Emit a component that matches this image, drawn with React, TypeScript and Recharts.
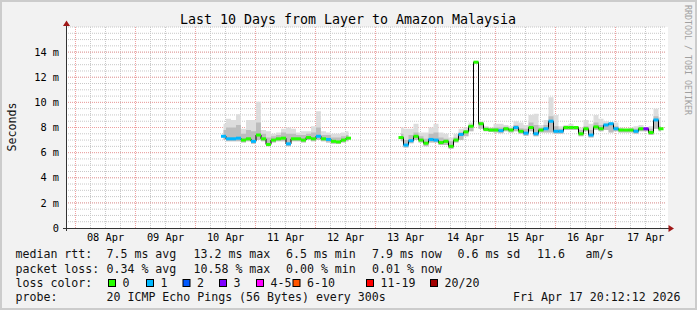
import React from "react";
import {
  ComposedChart,
  Area,
  Line,
  Scatter,
  XAxis,
  YAxis,
  CartesianGrid,
} from "recharts";

// time axis: hours after the graph start (Tue Apr 07 20:12:12)
const MIDNIGHT = 3.797; // Apr 08 00:00
const STEP = 2;
const START_A = 63;
const START_B = 134;

const dayLabels = [
  "08 Apr", "09 Apr", "10 Apr", "11 Apr", "12 Apr",
  "13 Apr", "14 Apr", "15 Apr", "16 Apr", "17 Apr",
];
const yTicks = [0, 2, 4, 6, 8, 10, 12, 14];

// 10 Apr .. 12 Apr
const medA = [7.3, 7.1, 7.1, 7.15, 7.0, 7.1, 6.9, 7.4, 7.1, 6.65, 7.0, 7.1, 7.15, 6.7, 7.1, 7.1, 7.0, 7.2, 7.1, 7.3, 7.1, 7.05, 6.9, 6.85, 7.0, 7.15];
const lossA = [1, 1, 1, 1, 0, 0, 1, 0, 0, 0, 0, 0, 0, 1, 0, 0, 0, 0, 0, 1, 0, 1, 0, 0, 0, 0];
const loA = [7.0, 6.9, 6.9, 6.9, 6.8, 6.9, 6.7, 7.0, 6.9, 6.5, 6.8, 6.9, 6.9, 6.5, 6.9, 6.9, 6.8, 7.0, 6.9, 7.0, 6.9, 6.8, 6.7, 6.7, 6.8, 6.9];
const midA = [7.8, 8.0, 8.0, 8.2, 7.5, 7.8, 7.7, 8.4, 7.5, 7.2, 7.3, 7.4, 7.6, 7.5, 7.5, 7.4, 7.4, 7.5, 7.6, 8.0, 7.4, 7.4, 7.2, 7.2, 7.3, 7.4];
const hiA = [8.3, 8.7, 8.6, 9.05, 7.9, 8.6, 8.6, 10.05, 7.8, 7.7, 7.5, 7.6, 7.9, 8.0, 7.9, 7.6, 7.7, 7.7, 8.1, 9.3, 7.7, 7.6, 7.5, 7.5, 7.6, 7.7];

// 13 Apr .. 17 Apr
const medB = [7.2, 6.6, 6.95, 7.3, 7.0, 6.75, 7.05, 7.0, 6.8, 6.9, 6.5, 7.0, 7.45, 7.65, 8.1, 13.2, 8.3, 7.85, 7.8, 7.8, 7.75, 7.9, 7.8, 8.0, 7.7, 7.55, 8.0, 7.5, 7.8, 7.9, 8.5, 7.7, 7.7, 8.0, 8.0, 8.0, 7.5, 7.9, 7.4, 8.05, 7.9, 8.2, 8.3, 7.9, 7.8, 7.8, 7.8, 7.7, 7.9, 7.9, 7.6, 8.6, 7.9];
const lossB = [0, 1, 1, 0, 0, 0, 1, 1, 0, 0, 0, 0, 1, 0, 0, 0, 0, 0, 0, 0, 1, 0, 0, 1, 0, 1, 0, 1, 0, 1, 1, 1, 1, 0, 0, 0, 0, 0, 1, 0, 0, 1, 1, 1, 0, 0, 0, 1, 0, 3, 0, 1, 0];
const loB = [6.9, 6.4, 6.75, 7.0, 6.8, 6.5, 6.8, 6.8, 6.6, 6.6, 6.3, 6.8, 7.0, 7.3, 7.7, 13.1, 7.9, 7.7, 7.65, 7.6, 7.55, 7.7, 7.6, 7.7, 7.5, 7.35, 7.7, 7.3, 7.6, 7.6, 7.6, 7.5, 7.5, 7.8, 7.8, 7.8, 7.3, 7.7, 7.2, 7.8, 7.7, 7.8, 7.6, 7.7, 7.6, 7.6, 7.6, 7.5, 7.7, 7.7, 7.4, 7.9, 7.7];
const midB = [7.5, 7.0, 7.4, 7.6, 7.3, 7.1, 7.5, 7.6, 7.2, 7.1, 6.9, 7.2, 7.6, 7.8, 8.2, 13.25, 8.4, 8.0, 7.95, 8.0, 8.0, 8.05, 7.95, 8.2, 7.95, 7.9, 8.4, 8.2, 8.0, 8.2, 8.9, 8.1, 7.9, 8.1, 8.1, 8.05, 7.8, 8.1, 7.8, 8.4, 8.2, 8.3, 8.3, 8.1, 7.9, 7.85, 7.9, 7.9, 8.0, 7.95, 7.9, 8.9, 8.1];
const hiB = [8.0, 7.9, 7.9, 8.3, 7.6, 7.6, 8.0, 8.3, 7.6, 7.5, 7.2, 7.5, 7.9, 8.0, 8.4, 13.3, 8.5, 8.1, 8.0, 8.3, 8.3, 8.2, 8.1, 8.5, 8.4, 8.2, 9.0, 9.1, 8.2, 8.6, 10.4, 9.0, 8.1, 8.2, 8.3, 8.1, 8.0, 8.6, 8.3, 9.0, 8.7, 8.5, 8.4, 8.4, 8.0, 7.9, 8.0, 8.1, 8.2, 8.0, 8.1, 9.5, 8.8];

const lossColors: Record<number, string> = {
  0: "#26ff00",
  1: "#00b8ff",
  2: "#0059ff",
  3: "#7e00ff",
  4: "#ff00ff",
  6: "#ff5500",
  11: "#ff0000",
  20: "#a10000",
};

const legendItems = [
  { label: "0", color: "#26ff00", x: 108 },
  { label: "1", color: "#00b8ff", x: 146 },
  { label: "2", color: "#0059ff", x: 182.5 },
  { label: "3", color: "#7e00ff", x: 219 },
  { label: "4-5", color: "#ff00ff", x: 256 },
  { label: "6-10", color: "#ff5500", x: 292.5 },
  { label: "11-19", color: "#ff0000", x: 366 },
  { label: "20/20", color: "#a10000", x: 430 },
];

const segment = (start: number, med: number[], loss: number[], lo: number[], mid: number[], hi: number[]) =>
  med.map((m, i) => ({
    h: start + i * STEP,
    med: m,
    loss: loss[i],
    band: [lo[i], hi[i]],
    core: [lo[i], mid[i]],
  }));

const rows = [
  ...segment(START_A, medA, lossA, loA, midA, hiA),
  { h: 123, med: null, loss: null, band: null, core: null },
  ...segment(START_B, medB, lossB, loB, midB, hiB),
];
const points = rows.filter((r) => r.med != null);

const noonTicks = dayLabels.map((_, i) => MIDNIGHT + 12 + 24 * i);
const majorX = dayLabels.map((_, i) => MIDNIGHT + 24 * i);
const minorX = Array.from({ length: 40 }, (_, i) => MIDNIGHT + 6 * i);
const minorY = Array.from({ length: 32 }, (_, i) => 0.5 * (i + 1));
const majorY = yTicks.filter((v) => v > 0);

const MONO = "'DejaVu Sans Mono', monospace";

function MedianMark(props: any) {
  const { cx, cy, payload } = props;
  if (typeof cx !== "number" || typeof cy !== "number") return null;
  return (
    <rect
      x={cx - 2.5}
      y={cy - 1.5}
      width={5}
      height={3}
      fill={lossColors[payload.loss] || "#26ff00"}
    />
  );
}

export default function App() {
  const txt = { fontFamily: MONO, fontSize: 11.6, fill: "#111" };
  return (
    <div
      style={{
        position: "absolute",
        left: 0,
        top: 0,
        width: 697,
        height: 310,
        background: "#f2f2f2",
        boxShadow: "inset 0 0 0 2px #cccccc",
      }}
    >
      <div
        style={{
          position: "absolute",
          left: 66,
          top: 27,
          width: 602,
          height: 201,
          background: "#fff",
        }}
      />
      <div style={{ position: "absolute", left: 0, top: 0 }}>
        <ComposedChart
          width={697}
          height={310}
          data={rows}
          margin={{ top: 27, right: 31, bottom: 62, left: 0 }}
        >
          <CartesianGrid
            horizontalValues={minorY}
            verticalValues={minorX}
            stroke="#c8c8c8"
            strokeDasharray="1 1"
          />
          <CartesianGrid
            horizontalValues={majorY}
            verticalValues={majorX}
            stroke="#f0a0a0"
            strokeDasharray="1 1"
          />
          <XAxis
            dataKey="h"
            type="number"
            domain={[0, 240]}
            ticks={noonTicks}
            tickFormatter={(_v: number, i: number) => dayLabels[i]}
            axisLine={false}
            tickLine={false}
            tickSize={4}
            tickMargin={2}
            height={20}
            interval={0}
            tick={{ fontFamily: MONO, fontSize: 10.3, fill: "#000" }}
          />
          <YAxis
            type="number"
            domain={[0, 16]}
            ticks={yTicks}
            tickFormatter={(v: number) => (v === 0 ? "0" : `${v} m`)}
            axisLine={false}
            tickLine={false}
            tickSize={5}
            tickMargin={2}
            width={66}
            interval={0}
            tick={{ fontFamily: MONO, fontSize: 10.3, fill: "#000" }}
          />
          <Area
            dataKey="band"
            type="step"
            fill="#dddddd"
            fillOpacity={1}
            stroke="none"
            isAnimationActive={false}
          />
          <Area
            dataKey="core"
            type="step"
            fill="#bdbdbd"
            fillOpacity={1}
            stroke="none"
            isAnimationActive={false}
          />
          <Line
            dataKey="med"
            type="step"
            stroke="#000"
            strokeWidth={1}
            dot={false}
            isAnimationActive={false}
          />
          <Scatter
            data={points}
            dataKey="med"
            shape={MedianMark}
            isAnimationActive={false}
          />
        </ComposedChart>
      </div>
      <svg
        width={697}
        height={310}
        style={{ position: "absolute", left: 0, top: 0 }}
      >
        {/* axes with arrow heads */}
        <line x1={66.5} y1={231} x2={66.5} y2={25} stroke="#333" />
        <line x1={63} y1={228.5} x2={669} y2={228.5} stroke="#333" />
        <polygon points="66.5,20.5 63,26 70,26" fill="#a01818" />
        <polygon points="674,228.5 668.5,225 668.5,232" fill="#a01818" />

        <text x={348} y={23.5} textAnchor="middle" fontFamily={MONO} fontSize={13.3} fill="#000">
          Last 10 Days from Layer to Amazon Malaysia
        </text>
        <text
          x={15.5}
          y={127}
          textAnchor="middle"
          transform="rotate(-90 15.5 127)"
          {...txt}
        >
          Seconds
        </text>
        <text
          x={685}
          y={5}
          transform="rotate(90 685 5)"
          fontFamily={MONO}
          fontSize={8.3}
          fill="#a0a0a0"
        >
          RRDTOOL / TOBI OETIKER
        </text>

        <text x={15.5} y={258} {...txt}>median rtt:</text>
        <text x={106.5} y={258} {...txt}>7.5 ms avg</text>
        <text x={193.5} y={258} {...txt}>13.2 ms max</text>
        <text x={286} y={258} {...txt}>6.5 ms min</text>
        <text x={372} y={258} {...txt}>7.9 ms now</text>
        <text x={457.5} y={258} {...txt}>0.6 ms sd</text>
        <text x={537} y={258} {...txt}>11.6</text>
        <text x={585.5} y={258} {...txt}>am/s</text>

        <text x={15.5} y={272.5} {...txt}>packet loss:</text>
        <text x={106.5} y={272.5} {...txt}>0.34 % avg</text>
        <text x={193.5} y={272.5} {...txt}>10.58 % max</text>
        <text x={286} y={272.5} {...txt}>0.00 % min</text>
        <text x={372} y={272.5} {...txt}>0.01 % now</text>

        <text x={15.5} y={286.5} {...txt}>loss color:</text>
        {legendItems.map((it) => (
          <g key={it.label}>
            <rect x={it.x + 0.5} y={279.5} width={7} height={7} fill={it.color} stroke="#000" />
            <text x={it.x + 14.5} y={286.5} {...txt}>{it.label}</text>
          </g>
        ))}

        <text x={15.5} y={300.5} {...txt}>probe:</text>
        <text x={106.5} y={300.5} {...txt}>20 ICMP Echo Pings (56 Bytes) every 300s</text>
        <text x={513} y={300.5} {...txt}>Fri Apr 17 20:12:12 2026</text>
      </svg>
    </div>
  );
}
